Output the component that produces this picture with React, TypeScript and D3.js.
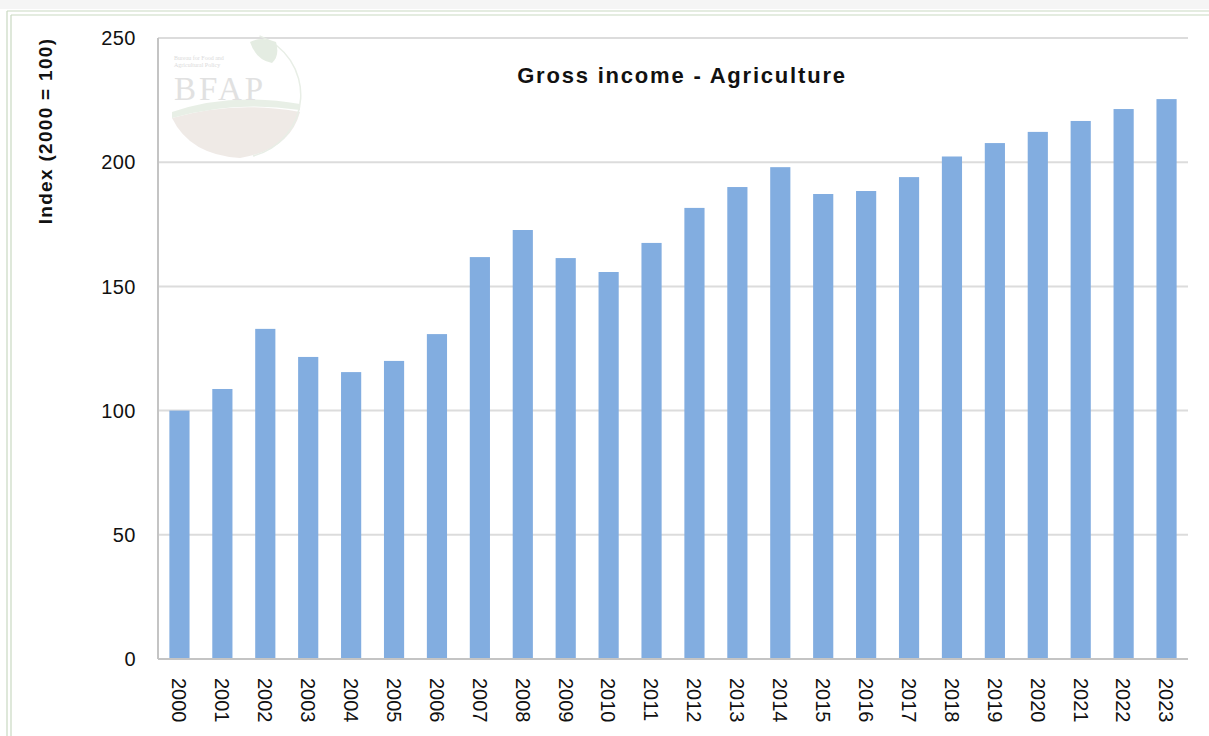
import React from "react";
import * as d3 from "d3";

const years = ["2000","2001","2002","2003","2004","2005","2006","2007","2008","2009","2010","2011","2012","2013","2014","2015","2016","2017","2018","2019","2020","2021","2022","2023"];
const values = [100, 108.7, 132.9, 121.6, 115.5, 120, 130.8, 161.8, 172.7, 161.4, 155.8, 167.5, 181.6, 190, 198, 187.2, 188.4, 194, 202.3, 207.7, 212.2, 216.6, 221.4, 225.4];
const yTicks = [0, 50, 100, 150, 200, 250];
const title = "Gross income - Agriculture";
const yLabel = "Index (2000 = 100)";

export default function App() {
  const W = 1209, H = 736;
  const left = 158, right = 1188, top = 38, bottom = 659;
  const x = d3.scaleBand<string>().domain(years).range([left, right]).paddingInner(0.53).paddingOuter(0.265);
  const y = d3.scaleLinear().domain([0, 250]).range([bottom, top]);
  const font = "'Liberation Sans', Arial, sans-serif";
  const logoArc = d3.arc()({ innerRadius: 62, outerRadius: 63.5, startAngle: 0.35, endAngle: 2.9 }) as string;
  return (
    <svg width={W} height={H} style={{ position: "absolute", left: 0, top: 0 }} fontFamily={font}>
      <rect x={0} y={0} width={W} height={H} fill="#fff" />
      <rect x={0} y={0} width={W} height={9} fill="#f5f5f5" />
      {/* outer frame double lines */}
      <line x1={7} x2={W} y1={11} y2={11} stroke="#c9d9c2" strokeWidth={1.2} />
      <line x1={11} x2={W} y1={15} y2={15} stroke="#c9d9c2" strokeWidth={1.2} />
      <line x1={7} x2={7} y1={11} y2={H} stroke="#c9d9c2" strokeWidth={1.2} />
      <line x1={11} x2={11} y1={15} y2={H} stroke="#c9d9c2" strokeWidth={1.2} />
      {/* gridlines */}
      {yTicks.filter(t => t > 0).map(t => (
        <line key={t} x1={left} x2={right} y1={y(t)} y2={y(t)} stroke="#dcdcdc" strokeWidth={2} />
      ))}
      {/* logo watermark */}
      <g opacity={0.9}>
        <path d="M172,118 Q235,100 300,112 Q290,150 240,158 Q190,155 172,118 Z" fill="#eee8e4" />
        <path d="M172,112 Q230,92 300,104 L300,110 Q235,100 172,118 Z" fill="#e6eee4" />
        <g transform="translate(238,95)"><path d={logoArc} fill="#e6ede4" /></g>
        <path d="M250,42 Q262,36 276,42 Q280,56 272,63 Q256,60 250,42 Z" fill="#e2ebdf" />
        <text x={174} y={60} fontSize={6} fill="#d8d8d8" fontFamily="'Liberation Serif', serif">Bureau for Food and</text>
        <text x={174} y={67} fontSize={6} fill="#d8d8d8" fontFamily="'Liberation Serif', serif">Agricultural Policy</text>
        <text x={174} y={100} fontSize={33} letterSpacing={3} fill="#dedede" fontFamily="'Liberation Serif', serif">BFAP</text>
      </g>
      {/* bars */}
      {years.map((yr, i) => (
        <rect key={yr} x={x(yr)} y={y(values[i])} width={x.bandwidth()} height={bottom - y(values[i])} fill="#82ade0" />
      ))}
      {/* axes */}
      <line x1={left} x2={left} y1={top} y2={bottom} stroke="#c4c4c4" strokeWidth={2} />
      <line x1={left} x2={right} y1={bottom} y2={bottom} stroke="#c4c4c4" strokeWidth={2} />
      {yTicks.map(t => (
        <text key={t} x={136} y={y(t)} dy="0.36em" textAnchor="end" fontSize={20} letterSpacing={0.5} fill="#111">{t}</text>
      ))}
      {years.map(yr => {
        const cx = (x(yr) as number) + x.bandwidth() / 2;
        return (
          <text key={yr} transform={`translate(${cx},${678}) rotate(90)`} dy="0.36em" fontSize={20} fill="#111">{yr}</text>
        );
      })}
      <text x={682} y={83} textAnchor="middle" fontSize={22} letterSpacing={1.8} fontWeight="bold" fill="#111">{title}</text>
      <text transform={`translate(45,131) rotate(-90)`} textAnchor="middle" dy="0.36em" fontSize={19} letterSpacing={1.3} fontWeight="bold" fill="#111">{yLabel}</text>
    </svg>
  );
}
